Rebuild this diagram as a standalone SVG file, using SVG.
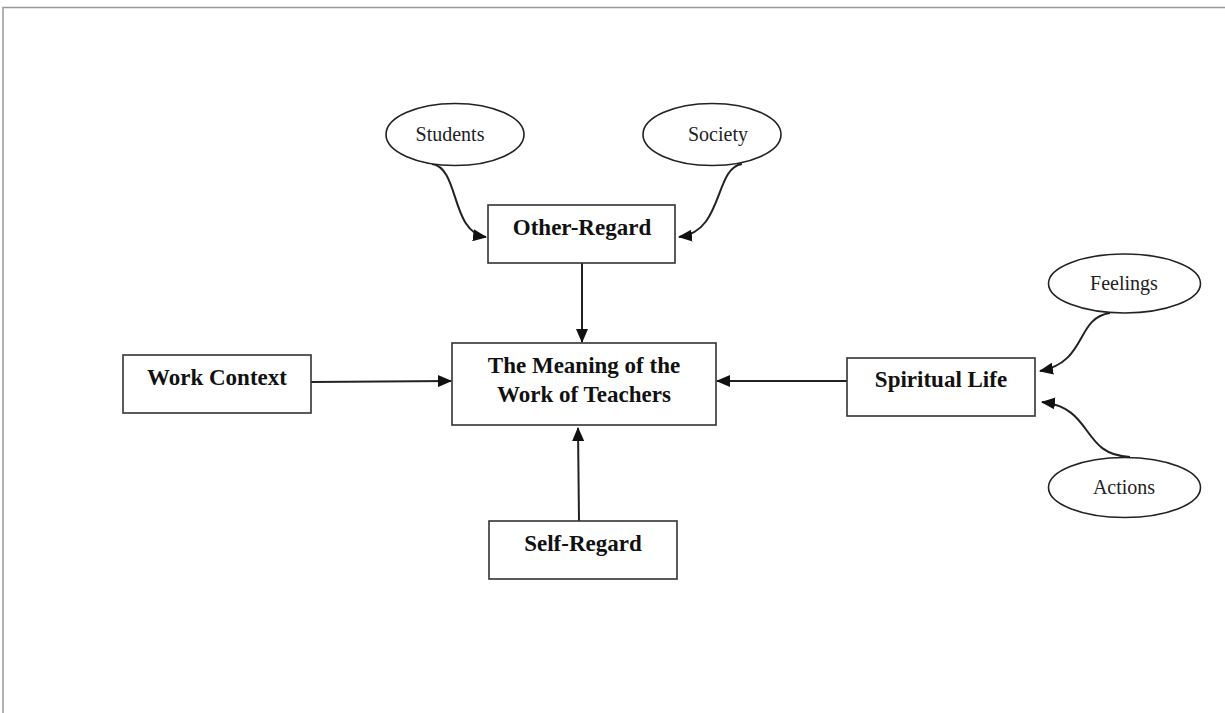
<svg xmlns="http://www.w3.org/2000/svg" width="1225" height="713" viewBox="0 0 1225 713">
<defs>
<marker id="ah" markerUnits="userSpaceOnUse" markerWidth="14" markerHeight="12" refX="13" refY="6" orient="auto">
<path d="M0,0 L14,6 L0,12 Z" fill="#111"/>
</marker>
<style>
.box{fill:#fff;stroke:#333;stroke-width:1.6}
.ell{fill:#fff;stroke:#222;stroke-width:1.6}
.bt{font-family:"Liberation Serif",serif;font-weight:bold;font-size:23px;fill:#111;text-anchor:middle}
.et{font-family:"Liberation Serif",serif;font-size:20px;fill:#222;text-anchor:middle}
.c{fill:none;stroke:#222;stroke-width:2;marker-end:url(#ah)}
.frame{stroke:#999;stroke-width:1.5;fill:none}
</style>
</defs>
<rect width="1225" height="713" fill="#fff"/>
<path class="frame" d="M3,713 L3,7.5 L1225,7.5"/>
<g id="connectors">
<path class="c" d="M582,263 L582,342"/>
<path class="c" d="M311,382 L451,381"/>
<path class="c" d="M847,381 L717,381"/>
<path class="c" d="M579,521 L578,428"/>
<path class="c" d="M432,164 C460,168 450,232 486,237"/>
<path class="c" d="M742,164 C714,168 724,232 679,237"/>
<path class="c" d="M1110,313 C1075,318 1088,362 1040,371"/>
<path class="c" d="M1130,457 C1080,455 1095,408 1042,402"/>
</g>
<g id="students"><ellipse class="ell" cx="455" cy="134.5" rx="69" ry="31"/><text class="et" x="450" y="141">Students</text></g>
<g id="society"><ellipse class="ell" cx="712" cy="134.5" rx="69" ry="31"/><text class="et" x="718" y="141">Society</text></g>
<g id="feelings"><ellipse class="ell" cx="1124.5" cy="283.5" rx="76" ry="29.5"/><text class="et" x="1124" y="290">Feelings</text></g>
<g id="actions"><ellipse class="ell" cx="1124.5" cy="487.5" rx="76" ry="30"/><text class="et" x="1124" y="494">Actions</text></g>
<g id="other-regard"><rect class="box" x="488" y="205" width="187" height="58"/><text class="bt" x="582" y="235">Other-Regard</text></g>
<g id="meaning"><rect class="box" x="452" y="343" width="264" height="82"/><text class="bt" x="584" y="373">The Meaning of the</text><text class="bt" x="584" y="402">Work of Teachers</text></g>
<g id="work-context"><rect class="box" x="123" y="355" width="188" height="58"/><text class="bt" x="217" y="385">Work Context</text></g>
<g id="spiritual-life"><rect class="box" x="847" y="358" width="188" height="58"/><text class="bt" x="941" y="387">Spiritual Life</text></g>
<g id="self-regard"><rect class="box" x="489" y="521" width="188" height="58"/><text class="bt" x="583" y="551">Self-Regard</text></g>
</svg>
